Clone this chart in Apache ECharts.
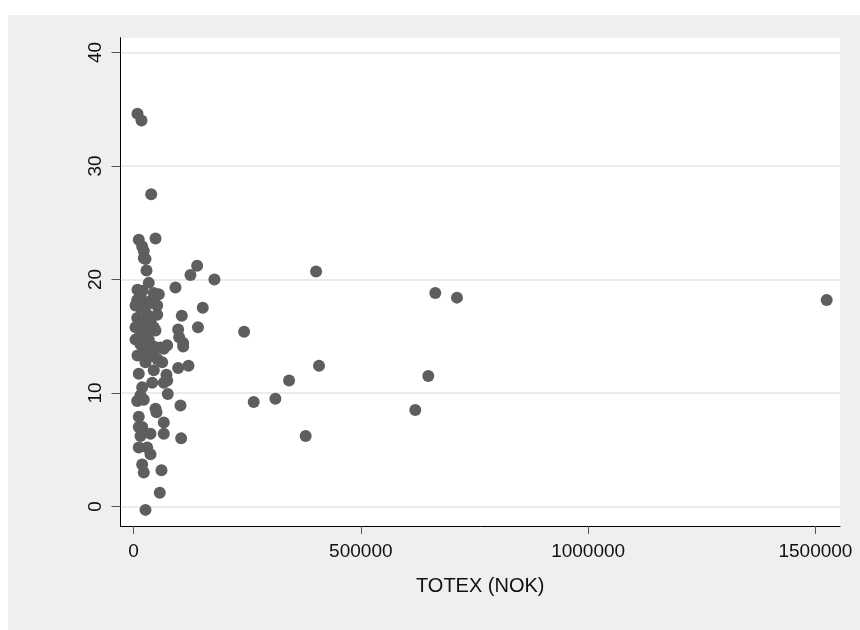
<!DOCTYPE html>
<html><head><meta charset="utf-8">
<script src="https://cdn.jsdelivr.net/npm/echarts@6/dist/echarts.min.js"></script>
<style>html,body{margin:0;padding:0;background:#fff}#c{width:860px;height:630px}</style>
</head><body><div id="c"></div>
<script>
// TOTEX (NOK) values
const totex = [8800,17600,38900,11600,48400,19100,22600,22600,26400,140000,
  28600,125300,178000,33600,92300,44600,55600,15400,8100,37400,
  52100,15400,4400,152300,30100,52100,106200,8100,19100,4400,
  44600,141800,98200,48400,15400,100400,4400,33600,109200,109200,
  15400,44600,74100,59300,22600,44600,66600,26400,52100,63100,
  98200,120900,11600,44600,72500,74100,41100,66600,19100,75400,
  15400,8100,22600,103300,48400,50600,11600,66600,11600,19100,
  37400,15400,66600,104800,11600,30100,37400,19100,22600,61500,
  57800,26400,
  243300,264400,312100,342200,378700,401600,408100,619800,648400,663800,711500,1524700,
  8800,19800,30800,24200,37400,26400,8800,33000];
// Y values
const yvals = [34.6,34.0,27.5,23.5,23.6,22.9,22.5,21.9,21.8,21.2,
  20.8,20.4,20.0,19.7,19.3,18.8,18.7,18.5,18.2,18.1,
  17.7,17.5,17.7,17.5,16.9,16.9,16.8,16.6,16.1,15.8,
  15.8,15.8,15.6,15.5,15.2,14.9,14.7,14.7,14.4,14.1,
  14.3,14.1,14.2,14.0,13.8,13.7,13.9,12.7,13.0,12.7,
  12.2,12.4,11.7,12.0,11.6,11.1,10.9,10.9,10.5,9.9,
  9.8,9.3,9.4,8.9,8.6,8.3,7.9,7.4,7.0,7.0,
  6.4,6.2,6.4,6.0,5.2,5.2,4.6,3.7,3.0,3.2,
  1.2,-0.3,
  15.4,9.2,9.5,11.1,6.2,20.7,12.4,8.5,11.5,18.8,18.4,18.2,
  19.1,19.0,17.8,16.5,16.3,15.4,13.3,13.2];
const xTicks = [0,500000,1000000,1500000];
const yTicks = [0,10,20,30,40];
const xTitle = 'TOTEX (NOK)';

const points = totex.map((v,i)=>[v,yvals[i]]);
const font = '"Liberation Sans", Arial, sans-serif';
const plain = v => String(v);
const chart = echarts.init(document.getElementById('c'), null, {renderer:'canvas'});
chart.setOption({
  animation:false,
  backgroundColor:'#efefef',
  graphic:[
    {type:'rect', shape:{x:0,y:0,width:860,height:15}, style:{fill:'#ffffff'}, silent:true},
    {type:'rect', shape:{x:0,y:0,width:8,height:630}, style:{fill:'#ffffff'}, silent:true}
  ],
  grid:{left:120.5, right:20, top:37.7, bottom:104, show:true, backgroundColor:'#ffffff', borderWidth:0},
  xAxis:{
    type:'value', min:-28600, max:1554000,
    name:xTitle, nameLocation:'middle', nameGap:50,
    nameTextStyle:{fontFamily:font, fontSize:20, color:'#111'},
    axisLine:{show:true, onZero:false, lineStyle:{color:'#000', width:1}},
    axisTick:{show:true, inside:false, length:8, customValues:xTicks, lineStyle:{color:'#555', width:1}},
    axisLabel:{customValues:xTicks, formatter:plain, margin:16, fontFamily:font, fontSize:19, color:'#111'},
    splitLine:{show:false}
  },
  yAxis:{
    type:'value', min:-1.72, max:41.3,
    axisLine:{show:true, onZero:false, lineStyle:{color:'#000', width:1}},
    axisTick:{show:true, inside:false, length:9, customValues:yTicks, lineStyle:{color:'#555', width:1}},
    axisLabel:{customValues:yTicks, formatter:plain, rotate:90, margin:15, fontFamily:font, fontSize:19, color:'#111'},
    splitLine:{show:true, lineStyle:{color:'#e4e4e4', width:1.5}}
  },
  series:[{
    type:'scatter', data:points, symbol:'circle', symbolSize:12,
    itemStyle:{color:'#5e5e5e', opacity:1}
  }]
});
</script></body></html>
